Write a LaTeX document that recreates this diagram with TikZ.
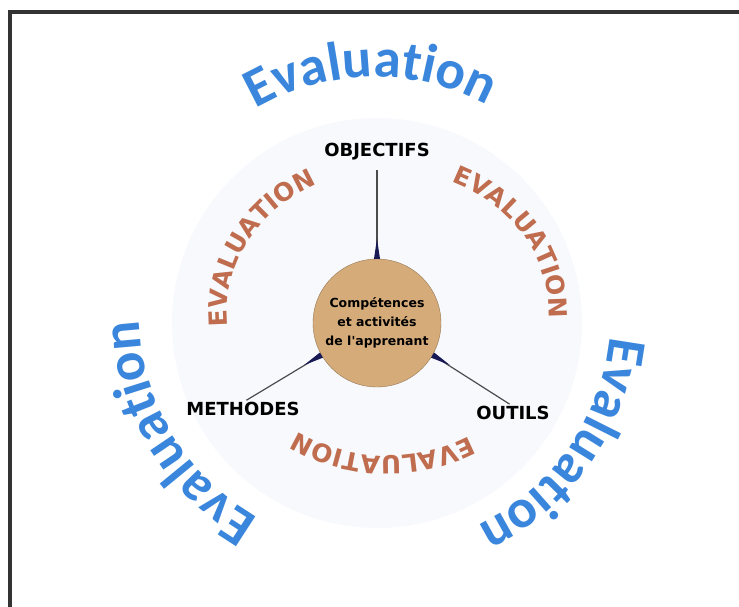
\documentclass[tikz,border=0pt]{standalone}
\usepackage{fontspec}
\usetikzlibrary{decorations.text}
\newfontfamily\evalfont{Carlito}
\newfontfamily\heavyfont{DejaVu Sans}
\definecolor{evalblue}{RGB}{58,134,220}
\definecolor{evalorange}{RGB}{192,108,78}
\definecolor{learnertan}{RGB}{213,171,122}
\definecolor{learneredge}{RGB}{150,120,85}
\definecolor{spikenavy}{RGB}{25,25,85}
\definecolor{haloblue}{RGB}{247,249,253}

\begin{document}
\begin{tikzpicture}[x=1pt, y=1pt,
    tagtext/.style={font=\heavyfont\bfseries\fontsize{18}{18}\selectfont, inner sep=0pt, text height=13pt, text depth=0pt},
    spoke/.style={draw=black!70, line width=1.2pt, shorten >=4pt},
    spike/.style={fill=spikenavy},
    blueword/.style={decorate, decoration={text along path, text align=center, text color=evalblue,
        text={|\evalfont\bfseries\fontsize{55}{55}\selectfont|Evaluation}}},
    orangeword/.style={decorate, decoration={text along path, text align=center, text color=evalorange,
        text={|\heavyfont\bfseries\fontsize{25}{25}\selectfont|EVALUATION}}}]
  \clip (-377,-283) rectangle (362,323);
  \draw[line width=3.5pt, black!80] (-367,311) rectangle (380,-300);
  \fill[haloblue] (0,0) circle (205);
  \node[circle, draw=learneredge, fill=learnertan, minimum size=128pt, inner sep=0pt, align=center,
        font=\heavyfont\bfseries\fontsize{12.5}{19}\selectfont] (comp) at (0,0) {Compétences\\et activités\\de l'apprenant};
  \node[tagtext] (obj) at (0,173) {OBJECTIFS};
  \node[tagtext] (meth) at (-134,-86) {METHODES};
  \node[tagtext] (tools) at (136,-90) {OUTILS};
  \draw[spoke, shorten >=13pt] (comp.90) -- (obj.south);
  \draw[spoke] (comp.210) -- (meth.north);
  \draw[spoke] (comp.330) -- (tools.north);
  \foreach \a in {90,210,330}
    \fill[spike] ([shift={(\a+90:3)}]comp.\a) -- ([shift={(\a:20)}]comp.\a) -- ([shift={(\a-90:3)}]comp.\a) -- cycle;
  \path[orangeword] (11,10) ++(212:161 and 143) arc[start angle=212, end angle=92, x radius=161, y radius=143];
  \path[orangeword] (11,10) ++(91:161 and 143) arc[start angle=91, end angle=-29, x radius=161, y radius=143];
  \path[orangeword] (11,10) ++(-32:161 and 143) arc[start angle=-32, end angle=-152, x radius=161, y radius=143];
  \path[blueword] (-2,10) ++(151:236) arc[start angle=151, end angle=31, radius=236];
  \path[blueword] (-2,10) ++(271:236) arc[start angle=271, end angle=151, radius=236];
  \path[blueword] (-2,10) ++(25:236) arc[start angle=25, end angle=-95, radius=236];
\end{tikzpicture}
\end{document}
